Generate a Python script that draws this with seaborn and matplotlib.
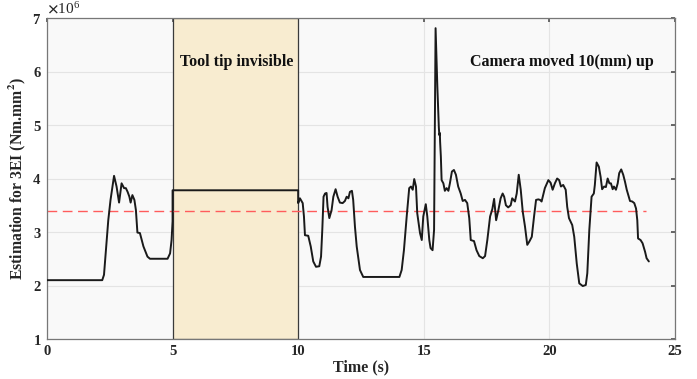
import numpy as np
import pandas as pd
import matplotlib
matplotlib.use("Agg")
import matplotlib.pyplot as plt
import seaborn as sns

# ---- data (estimation values in units of 1e6 Nm.mm^2) ----
time_s = [0.0, 2.20, 2.27, 2.38, 2.44, 2.53, 2.67, 2.77, 2.87, 2.97, 3.07, 3.14, 3.21, 3.28,
          3.33, 3.40, 3.48, 3.54, 3.60, 3.70, 3.84, 4.00, 4.10, 4.80, 4.90, 4.96, 5.00, 5.00,
          10.00, 10.00, 10.07, 10.18, 10.23, 10.27, 10.40, 10.50, 10.60, 10.71, 10.84, 10.91,
          10.96, 11.01, 11.07, 11.13, 11.17, 11.24, 11.33, 11.40, 11.49, 11.57, 11.66, 11.77,
          11.86, 11.93, 12.00, 12.06, 12.14, 12.19, 12.26, 12.33, 12.46, 12.59, 14.03, 14.12,
          14.21, 14.32, 14.42, 14.49, 14.56, 14.62, 14.69, 14.74, 14.85, 14.92, 14.98, 15.08,
          15.14, 15.22, 15.27, 15.35, 15.41, 15.44, 15.47, 15.54, 15.60, 15.62, 15.64, 15.65,
          15.68, 15.71, 15.78, 15.84, 15.91, 15.98, 16.04, 16.12, 16.20, 16.28, 16.37, 16.47,
          16.55, 16.64, 16.73, 16.81, 16.87, 17.00, 17.10, 17.21, 17.35, 17.44, 17.53, 17.64,
          17.73, 17.80, 17.88, 17.97, 18.06, 18.14, 18.20, 18.27, 18.36, 18.46, 18.52, 18.63,
          18.70, 18.78, 18.86, 18.94, 19.03, 19.12, 19.20, 19.30, 19.39, 19.47, 19.56, 19.63,
          19.69, 19.82, 19.96, 20.05, 20.13, 20.22, 20.31, 20.39, 20.46, 20.55, 20.65, 20.71,
          20.78, 20.91, 20.99, 21.09, 21.19, 21.33, 21.45, 21.51, 21.59, 21.68, 21.77, 21.81,
          21.88, 21.97, 22.04, 22.10, 22.18, 22.25, 22.32, 22.39, 22.45, 22.52, 22.57, 22.65,
          22.72, 22.78, 22.86, 22.94, 23.01, 23.08, 23.14, 23.21, 23.30, 23.38, 23.45, 23.50,
          23.53, 23.63, 23.71, 23.81, 23.87, 23.96]
estimate_e6 = [2.10, 2.10, 2.20, 2.85, 3.22, 3.60, 4.05, 3.85, 3.55, 3.91, 3.82, 3.82, 3.75, 3.66,
               3.55, 3.69, 3.60, 3.41, 2.99, 2.98, 2.73, 2.54, 2.50, 2.50, 2.60, 2.85, 3.20, 3.78,
               3.78, 3.54, 3.63, 3.54, 3.29, 2.94, 2.93, 2.73, 2.45, 2.35, 2.36, 2.54,
               3.04, 3.66, 3.72, 3.73, 3.47, 3.26, 3.41, 3.66, 3.80, 3.66, 3.55, 3.54,
               3.58, 3.66, 3.63, 3.75, 3.77, 3.60, 3.10, 2.73, 2.29, 2.16, 2.16, 2.29,
               2.66, 3.29, 3.82, 3.85, 3.79, 3.99, 3.85, 3.35, 2.98, 2.85, 3.29, 3.52,
               3.29, 2.85, 2.70, 2.66, 3.04, 5.00, 6.81, 5.72, 4.95, 4.81, 4.85, 4.69,
               4.41, 3.97, 3.91, 3.77, 3.82, 3.77, 3.91, 4.13, 4.16, 4.07, 3.85, 3.72,
               3.58, 3.60, 3.54, 3.26, 2.85, 2.83, 2.66, 2.55, 2.51, 2.55, 2.85, 3.29,
               3.43, 3.62, 3.22, 3.41, 3.63, 3.72, 3.66, 3.50, 3.46, 3.50, 3.63, 3.57,
               3.72, 4.07, 3.79, 3.38, 3.10, 2.76, 2.82, 2.91, 3.29, 3.60, 3.61, 3.60,
               3.57, 3.82, 3.97, 3.92, 3.79, 3.91, 4.00, 3.97, 3.85, 3.88, 3.79, 3.47,
               3.26, 3.13, 2.91, 2.41, 2.04, 1.99, 2.01, 2.23, 3.04, 3.66, 3.72, 3.88,
               4.30, 4.22, 4.03, 3.80, 3.85, 3.84, 4.00, 3.91, 3.91, 3.80, 3.85, 3.79,
               3.91, 4.10, 4.17, 4.07, 3.94, 3.79, 3.69, 3.58, 3.57, 3.54, 3.44, 3.22,
               2.88, 2.85, 2.79, 2.63, 2.51, 2.45]
mean_level_e6 = 3.40
mean_span = [0.0, 23.85]
invisible_span = [5.0, 10.0]
labels = ["Tool tip invisible", "Camera moved 10(mm) up"]
x_ticks = [0, 5, 10, 15, 20, 25]
y_ticks = [1, 2, 3, 4, 5, 6, 7]

df = pd.DataFrame({"Time (s)": time_s,
                   "Estimate": np.array(estimate_e6) * 1e6})

sns.set_theme(style="white")
plt.rcParams["font.family"] = ["Liberation Serif", "DejaVu Serif"]
plt.rcParams["font.weight"] = "bold"
plt.rcParams["mathtext.fontset"] = "stix"

fig = plt.figure(figsize=(6.97, 3.79), dpi=100)
ax = fig.add_axes([0.0674, 0.1055, 0.9010, 0.8470])
ax.set_facecolor("#f9f9f9")

ax.axvspan(invisible_span[0], invisible_span[1], facecolor="#f8ecd0",
           edgecolor="#3a3a3a", linewidth=0.9, zorder=1)

sns.lineplot(data=df, x="Time (s)", y="Estimate", ax=ax, color="#1a1a1a",
             linewidth=1.4, sort=False, estimator=None, zorder=3)

ax.plot(mean_span, [mean_level_e6 * 1e6] * 2, color="#ff5c5c",
        linestyle=(0, (7, 4)), linewidth=1.0, zorder=2)

ax.set_xlim(0, 25)
ax.set_ylim(1e6, 7e6)
ax.set_xticks(x_ticks)
ax.set_yticks(np.array(y_ticks) * 1e6)
ax.ticklabel_format(axis="y", style="sci", scilimits=(6, 6), useMathText=True)
ax.yaxis.get_offset_text().set_fontsize(11)
ax.yaxis.get_offset_text().set_fontweight("normal")
ax.grid(True, color="#e4e4e4", linewidth=0.8, zorder=0)
ax.set_axisbelow(True)

ax.tick_params(axis="both", which="both", direction="in", length=3,
               top=True, right=True, labelsize=10.5, color="#555555", pad=4)
for lab in ax.get_xticklabels() + ax.get_yticklabels():
    lab.set_fontweight("bold")
for sp in ax.spines.values():
    sp.set_color("#777777")
    sp.set_linewidth(0.9)

ax.set_xlabel("Time (s)", fontsize=11.5, fontweight="bold", labelpad=1)
ax.set_ylabel(r"Estimation for 3EI (Nm.mm$^\mathbf{2}$)", fontsize=11.3,
              fontweight="bold", labelpad=3)

ax.text(7.55, 6.18e6, labels[0], ha="center", va="center",
        fontsize=11.5, fontweight="bold", color="#111111", zorder=4)
ax.text(20.5, 6.18e6, labels[1], ha="center", va="center",
        fontsize=11.5, fontweight="bold", color="#111111", zorder=4)

fig.savefig("out.png", dpi=100)
